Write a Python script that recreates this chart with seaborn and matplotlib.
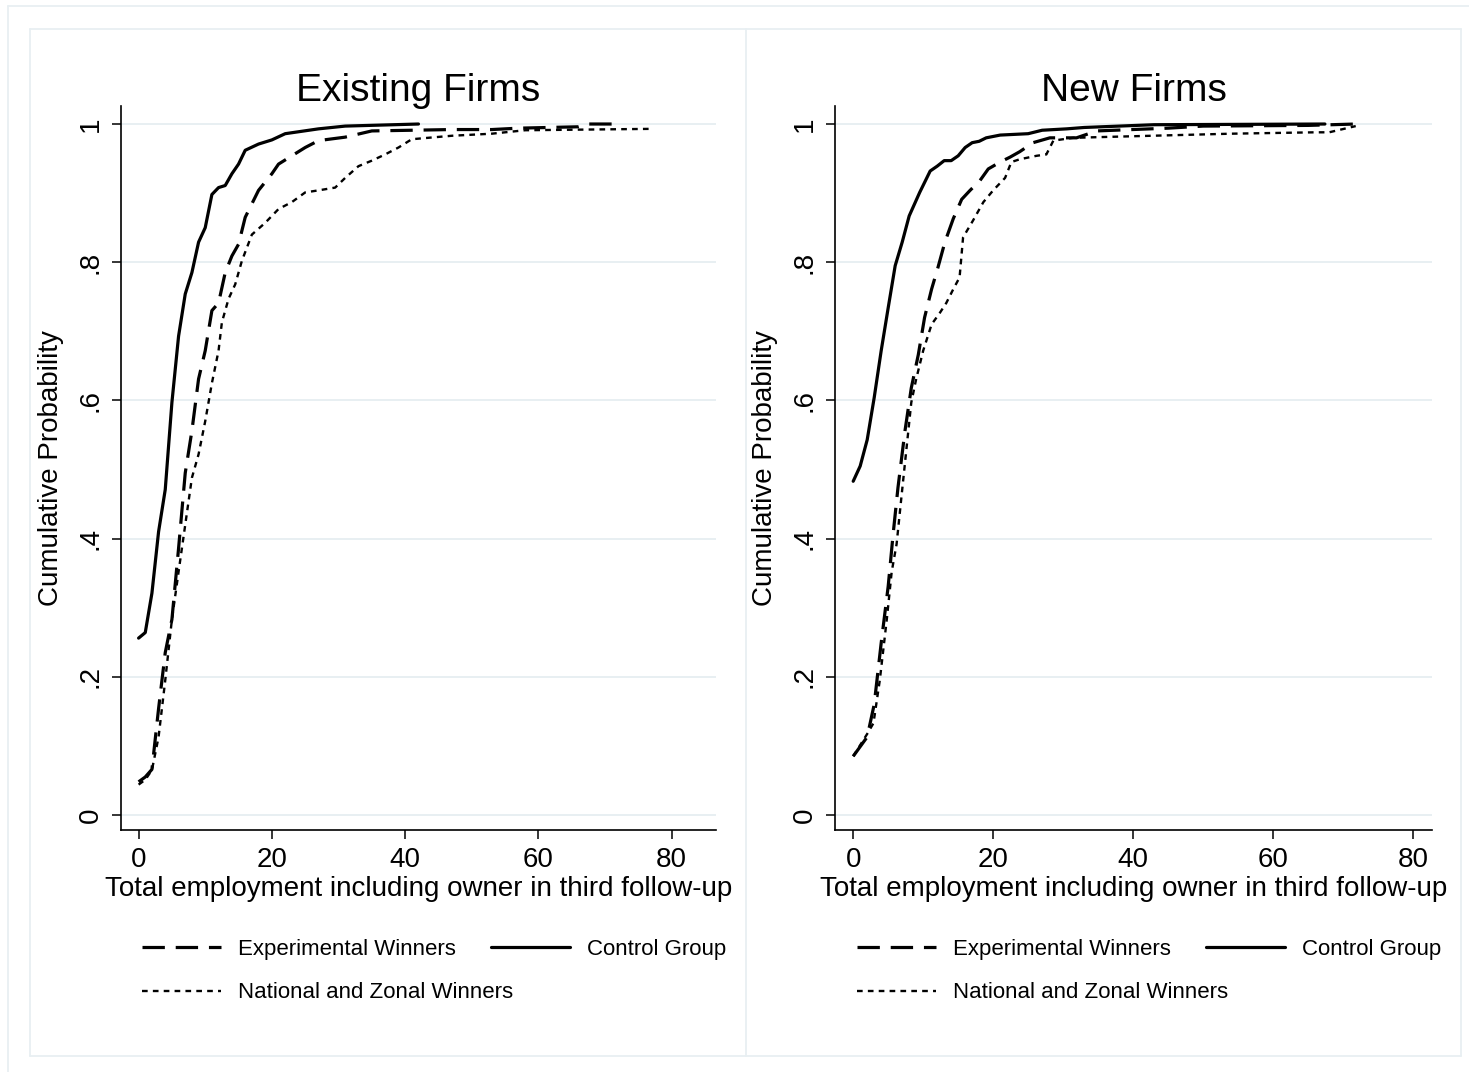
import matplotlib
matplotlib.use("Agg")
import matplotlib.pyplot as plt
from matplotlib.lines import Line2D
import seaborn as sns
import pandas as pd

# ---------------- data ----------------
x_ticks = [0, 20, 40, 60, 80]
y_ticks = [0, 0.2, 0.4, 0.6, 0.8, 1.0]
y_tick_labels = ["0", ".2", ".4", ".6", ".8", "1"]
panel_titles = ["Existing Firms", "New Firms"]
series_names = ["Experimental Winners", "Control Group", "National and Zonal Winners"]
x_label = "Total employment including owner in third follow-up"
y_label = "Cumulative Probability"

# Existing firms
ex_ctrl_x = [0, 1, 2, 3, 4, 5, 6, 7, 8, 9, 10, 11, 12, 13, 14, 15, 16, 18, 20, 22, 27, 31, 42]
ex_ctrl_y = [0.256, 0.264, 0.321, 0.41, 0.471, 0.597, 0.693, 0.754, 0.785, 0.829, 0.85, 0.898,
             0.908, 0.911, 0.928, 0.942, 0.962, 0.971, 0.977, 0.986, 0.993, 0.997, 1.0]
ex_exp_x = [0, 1, 2, 3, 4, 5, 6, 7, 8, 9, 10, 11, 12, 13, 14, 15, 16, 18, 20, 21, 23, 25, 27,
            31, 35, 47, 53, 57, 66, 67.5, 71]
ex_exp_y = [0.048, 0.055, 0.066, 0.154, 0.235, 0.283, 0.386, 0.495, 0.556, 0.631, 0.672, 0.73,
            0.741, 0.785, 0.809, 0.826, 0.865, 0.904, 0.928, 0.942, 0.954, 0.966, 0.976, 0.981,
            0.99, 0.992, 0.992, 0.994, 0.996, 1.0, 1.0]
ex_nat_x = [0, 1, 2, 3, 4, 5, 6, 7, 8, 9, 10, 11, 12, 12.5, 13.5, 14.5, 15.5, 17, 19, 21, 23,
            25, 27, 29.5, 31, 33, 35, 37, 39, 41, 47, 53, 58, 77]
ex_nat_y = [0.044, 0.051, 0.065, 0.113, 0.195, 0.283, 0.352, 0.42, 0.488, 0.522, 0.57, 0.625,
            0.672, 0.713, 0.747, 0.768, 0.802, 0.84, 0.857, 0.877, 0.887, 0.901, 0.904, 0.908,
            0.922, 0.939, 0.947, 0.956, 0.966, 0.978, 0.983, 0.986, 0.991, 0.993]

# New firms
nw_ctrl_x = [0, 1, 2, 3, 4, 5, 6, 7, 8, 9.5, 11, 12, 13, 14, 15, 16, 17, 18, 19, 21, 25, 27,
             30.5, 33, 38, 43, 67.4]
nw_ctrl_y = [0.483, 0.505, 0.543, 0.604, 0.672, 0.734, 0.795, 0.829, 0.867, 0.901, 0.932, 0.939,
             0.947, 0.947, 0.954, 0.966, 0.973, 0.975, 0.98, 0.984, 0.986, 0.991, 0.993, 0.995,
             0.997, 0.999, 1.0]
nw_exp_x = [0, 1, 2, 3, 4, 5, 5.7, 6.4, 7.4, 8.3, 9.3, 10.2, 11.2, 12.1, 13.1, 14.3, 15.5, 16.7,
            18.1, 19.3, 21, 22.4, 23.8, 25.7, 28.1, 31.9, 34.8, 45, 50, 65, 71.8]
nw_exp_y = [0.085, 0.099, 0.113, 0.16, 0.249, 0.331, 0.406, 0.474, 0.556, 0.618, 0.666, 0.72,
            0.761, 0.792, 0.829, 0.863, 0.891, 0.904, 0.918, 0.935, 0.945, 0.952, 0.96, 0.973,
            0.98, 0.98, 0.99, 0.994, 0.997, 0.998, 1.0]
nw_nat_x = [0, 2.1, 2.9, 3.8, 4.8, 5.5, 6.2, 6.9, 7.6, 8.3, 9, 10, 11.2, 12.4, 13.3, 14.3, 15.2,
            15.7, 17.1, 18.6, 20, 21.7, 22.6, 23.8, 26.2, 27.6, 28.6, 31.4, 35, 54, 66, 68, 71.8]
nw_nat_y = [0.085, 0.119, 0.133, 0.195, 0.283, 0.352, 0.392, 0.461, 0.529, 0.597, 0.631, 0.672,
            0.71, 0.727, 0.741, 0.761, 0.778, 0.836, 0.86, 0.887, 0.904, 0.922, 0.945, 0.949,
            0.954, 0.956, 0.976, 0.98, 0.981, 0.986, 0.988, 0.988, 0.997]

# ---------------- styling ----------------
sns.set_theme(style="white")
plt.rcParams["font.family"] = ["Liberation Sans", "DejaVu Sans"]
for key in ["text.color", "axes.labelcolor", "xtick.color", "ytick.color"]:
    plt.rcParams[key] = "black"

W, H = 1469, 1072
fig = plt.figure(figsize=(W / 100, H / 100), dpi=100)
fig.patch.set_facecolor("white")

FRAME = "#E8EFF2"
GRID = "#E6EEF1"

def fx(px):
    return px / W

def fy(py):
    return 1 - py / H

styles = {
    "Experimental Winners": dict(lw=2.3, linestyle=(0, (7.0, 3.4))),
    "Control Group": dict(lw=2.3, linestyle="-"),
    "National and Zonal Winners": dict(lw=1.7, linestyle=(0, (2.4, 2.2))),
}

panels = [
    dict(title=panel_titles[0], left=121, right=716, xlim=(-2.64, 86.65),
         data={"Experimental Winners": (ex_exp_x, ex_exp_y),
               "Control Group": (ex_ctrl_x, ex_ctrl_y),
               "National and Zonal Winners": (ex_nat_x, ex_nat_y)},
         leg_x=142),
    dict(title=panel_titles[1], left=835, right=1432, xlim=(-2.6, 82.7),
         data={"Experimental Winners": (nw_exp_x, nw_exp_y),
               "Control Group": (nw_ctrl_x, nw_ctrl_y),
               "National and Zonal Winners": (nw_nat_x, nw_nat_y)},
         leg_x=857),
]

top_px, bot_px = 105.5, 830
for p in panels:
    ax = fig.add_axes([fx(p["left"]), fy(bot_px), (p["right"] - p["left"]) / W, (bot_px - top_px) / H])
    ax.set_facecolor("white")
    handles = {}
    for name in series_names:
        xs, ys = p["data"][name]
        df = pd.DataFrame({"x": xs, "y": ys})
        sns.lineplot(data=df, x="x", y="y", ax=ax, color="black", estimator=None,
                     sort=False, **styles[name])
        handles[name] = ax.lines[-1]
    ax.set_xlim(*p["xlim"])
    ax.set_ylim(-0.0217, 1.0268)
    ax.set_xticks(x_ticks)
    ax.set_xticklabels([str(t) for t in x_ticks], fontsize=20, color="black")
    ax.set_yticks(y_ticks)
    ax.set_yticklabels(y_tick_labels, fontsize=20, rotation=90, va="center", color="black")
    ax.yaxis.grid(True, color=GRID, lw=1.3)
    ax.xaxis.grid(False)
    ax.set_axisbelow(True)
    for s in ["top", "right"]:
        ax.spines[s].set_visible(False)
    for s in ["left", "bottom"]:
        ax.spines[s].set_color("black")
        ax.spines[s].set_linewidth(1.2)
    ax.tick_params(axis="both", direction="out", length=6.5, width=1.1, color="black",
                   labelcolor="black", left=True, bottom=True, pad=6)
    ax.set_xlabel(x_label, fontsize=20, labelpad=2, color="black")
    ax.set_ylabel(y_label, fontsize=20, labelpad=10, color="black")
    ax.set_title(p["title"], fontsize=28, pad=3, color="black")

    leg_kw = dict(frameon=False, fontsize=16, handlelength=3.56, handletextpad=0.77,
                  columnspacing=1.58, borderpad=0, borderaxespad=0, loc="center left",
                  labelcolor="black")
    fig.legend([handles["Experimental Winners"], handles["Control Group"]],
               ["Experimental Winners", "Control Group"], ncol=2,
               bbox_to_anchor=(fx(p["leg_x"]), fy(949)), **leg_kw)
    fig.legend([handles["National and Zonal Winners"]], ["National and Zonal Winners"],
               ncol=1, bbox_to_anchor=(fx(p["leg_x"]), fy(993)), **leg_kw)

# frames (graph region boxes)
frame_lines = [
    ([7.5, 7.5], [5.5, H]),
    ([7.5, W], [5.5, 5.5]),
    ([30, 1461], [29, 29]),
    ([30, 1461], [1056, 1056]),
    ([30, 30], [29, 1056]),
    ([1461, 1461], [29, 1056]),
    ([746, 746], [29, 1056]),
]
for xs, ys in frame_lines:
    fig.add_artist(Line2D([fx(v) for v in xs], [fy(v) for v in ys], color=FRAME, lw=1.3,
                          transform=fig.transFigure))

fig.savefig("out.png", dpi=100)
